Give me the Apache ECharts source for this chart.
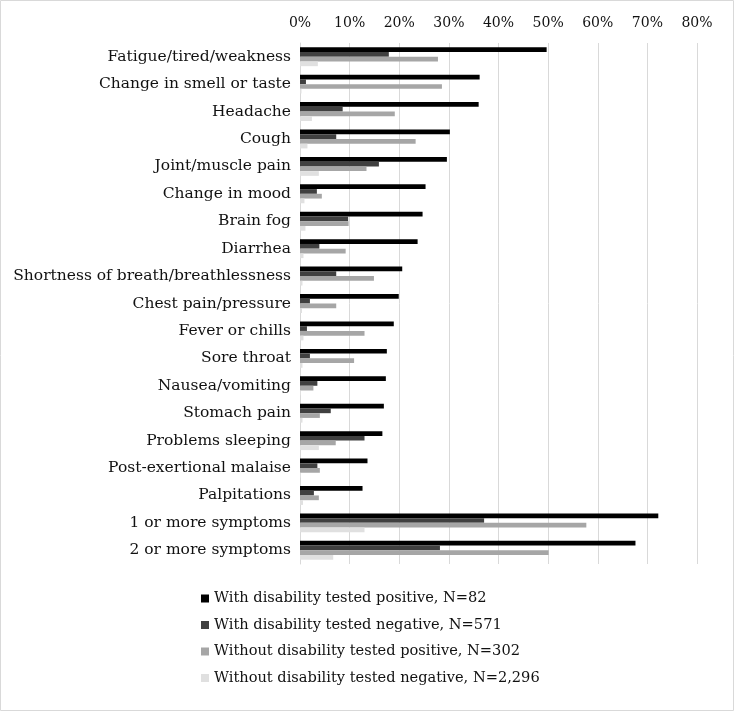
<!DOCTYPE html>
<html>
<head>
<meta charset="utf-8">
<script src="https://cdn.jsdelivr.net/npm/echarts@6/dist/echarts.min.js"></script>
<style>html,body{margin:0;padding:0;background:#fff}#c{width:734px;height:711px}</style>
</head>
<body>
<div id="c"></div>
<script>
const categories = ["Fatigue/tired/weakness","Change in smell or taste","Headache","Cough","Joint/muscle pain","Change in mood","Brain fog","Diarrhea","Shortness of breath/breathlessness","Chest pain/pressure","Fever or chills","Sore throat","Nausea/vomiting","Stomach pain","Problems sleeping","Post-exertional malaise","Palpitations","1 or more symptoms","2 or more symptoms"];
const withDisPos = [49.7,36.2,36.0,30.2,29.6,25.3,24.7,23.7,20.6,19.9,18.9,17.5,17.3,16.9,16.6,13.6,12.6,72.2,67.6];
const withDisNeg = [17.9,1.2,8.6,7.3,15.9,3.4,9.7,3.9,7.3,2.0,1.4,2.0,3.5,6.2,13.0,3.5,2.8,37.1,28.2];
const withoutDisPos = [27.8,28.6,19.1,23.3,13.4,4.4,9.8,9.2,14.9,7.3,13.0,10.9,2.7,4.0,7.2,4.0,3.8,57.7,50.1];
const withoutDisNeg = [3.6,0.3,2.4,1.5,3.8,0.9,1.1,0.7,0.5,0.4,0.7,0.5,0.2,0.5,3.8,0.2,0.6,13.0,6.7];
const seriesNames = ["With disability tested positive, N=82","With disability tested negative, N=571","Without disability tested positive, N=302","Without disability tested negative, N=2,296"];
const colors = ["#000000","#404040","#a6a6a6","#e0e0e0"];
const tickValues = [0,10,20,30,40,50,60,70,80];

const font = "DejaVu Serif";
const chart = echarts.init(document.getElementById('c'));
const data = [withDisPos, withDisNeg, withoutDisPos, withoutDisNeg];
chart.setOption({
  animation: false,
  color: colors,
  graphic: [{type:'rect', shape:{x:0.5,y:0.5,width:733,height:710}, style:{fill:'none',stroke:'#d9d9d9',lineWidth:1}, silent:true}],
  grid: {left: 300, right: 37, top: 43, bottom: 147},
  xAxis: {
    type: 'value', position: 'top', min: 0, max: 80, interval: 10,
    axisLine: {show: false},
    axisTick: {show: false},
    splitLine: {show: true, lineStyle: {color: '#d9d9d9', width: 1}},
    axisLabel: {formatter: v => v + '%', fontFamily: font, fontSize: 14, color: '#111', margin: 13}
  },
  yAxis: {
    type: 'category', data: categories, inverse: true,
    axisLine: {show: true, lineStyle: {color: '#d9d9d9'}},
    axisTick: {show: false},
    axisLabel: {fontFamily: font, fontSize: 15.5, color: '#111', margin: 9}
  },
  legend: {
    orient: 'vertical', left: 196, top: 586, itemWidth: 8, itemHeight: 8, itemGap: 11.5,
    icon: 'rect',
    textStyle: {fontFamily: font, fontSize: 14.6, color: '#111'},
    data: seriesNames
  },
  series: seriesNames.map((n, i) => ({
    name: n, type: 'bar', data: data[i], barGap: '0%', barCategoryGap: '31%'
  }))
});
</script>
</body>
</html>
